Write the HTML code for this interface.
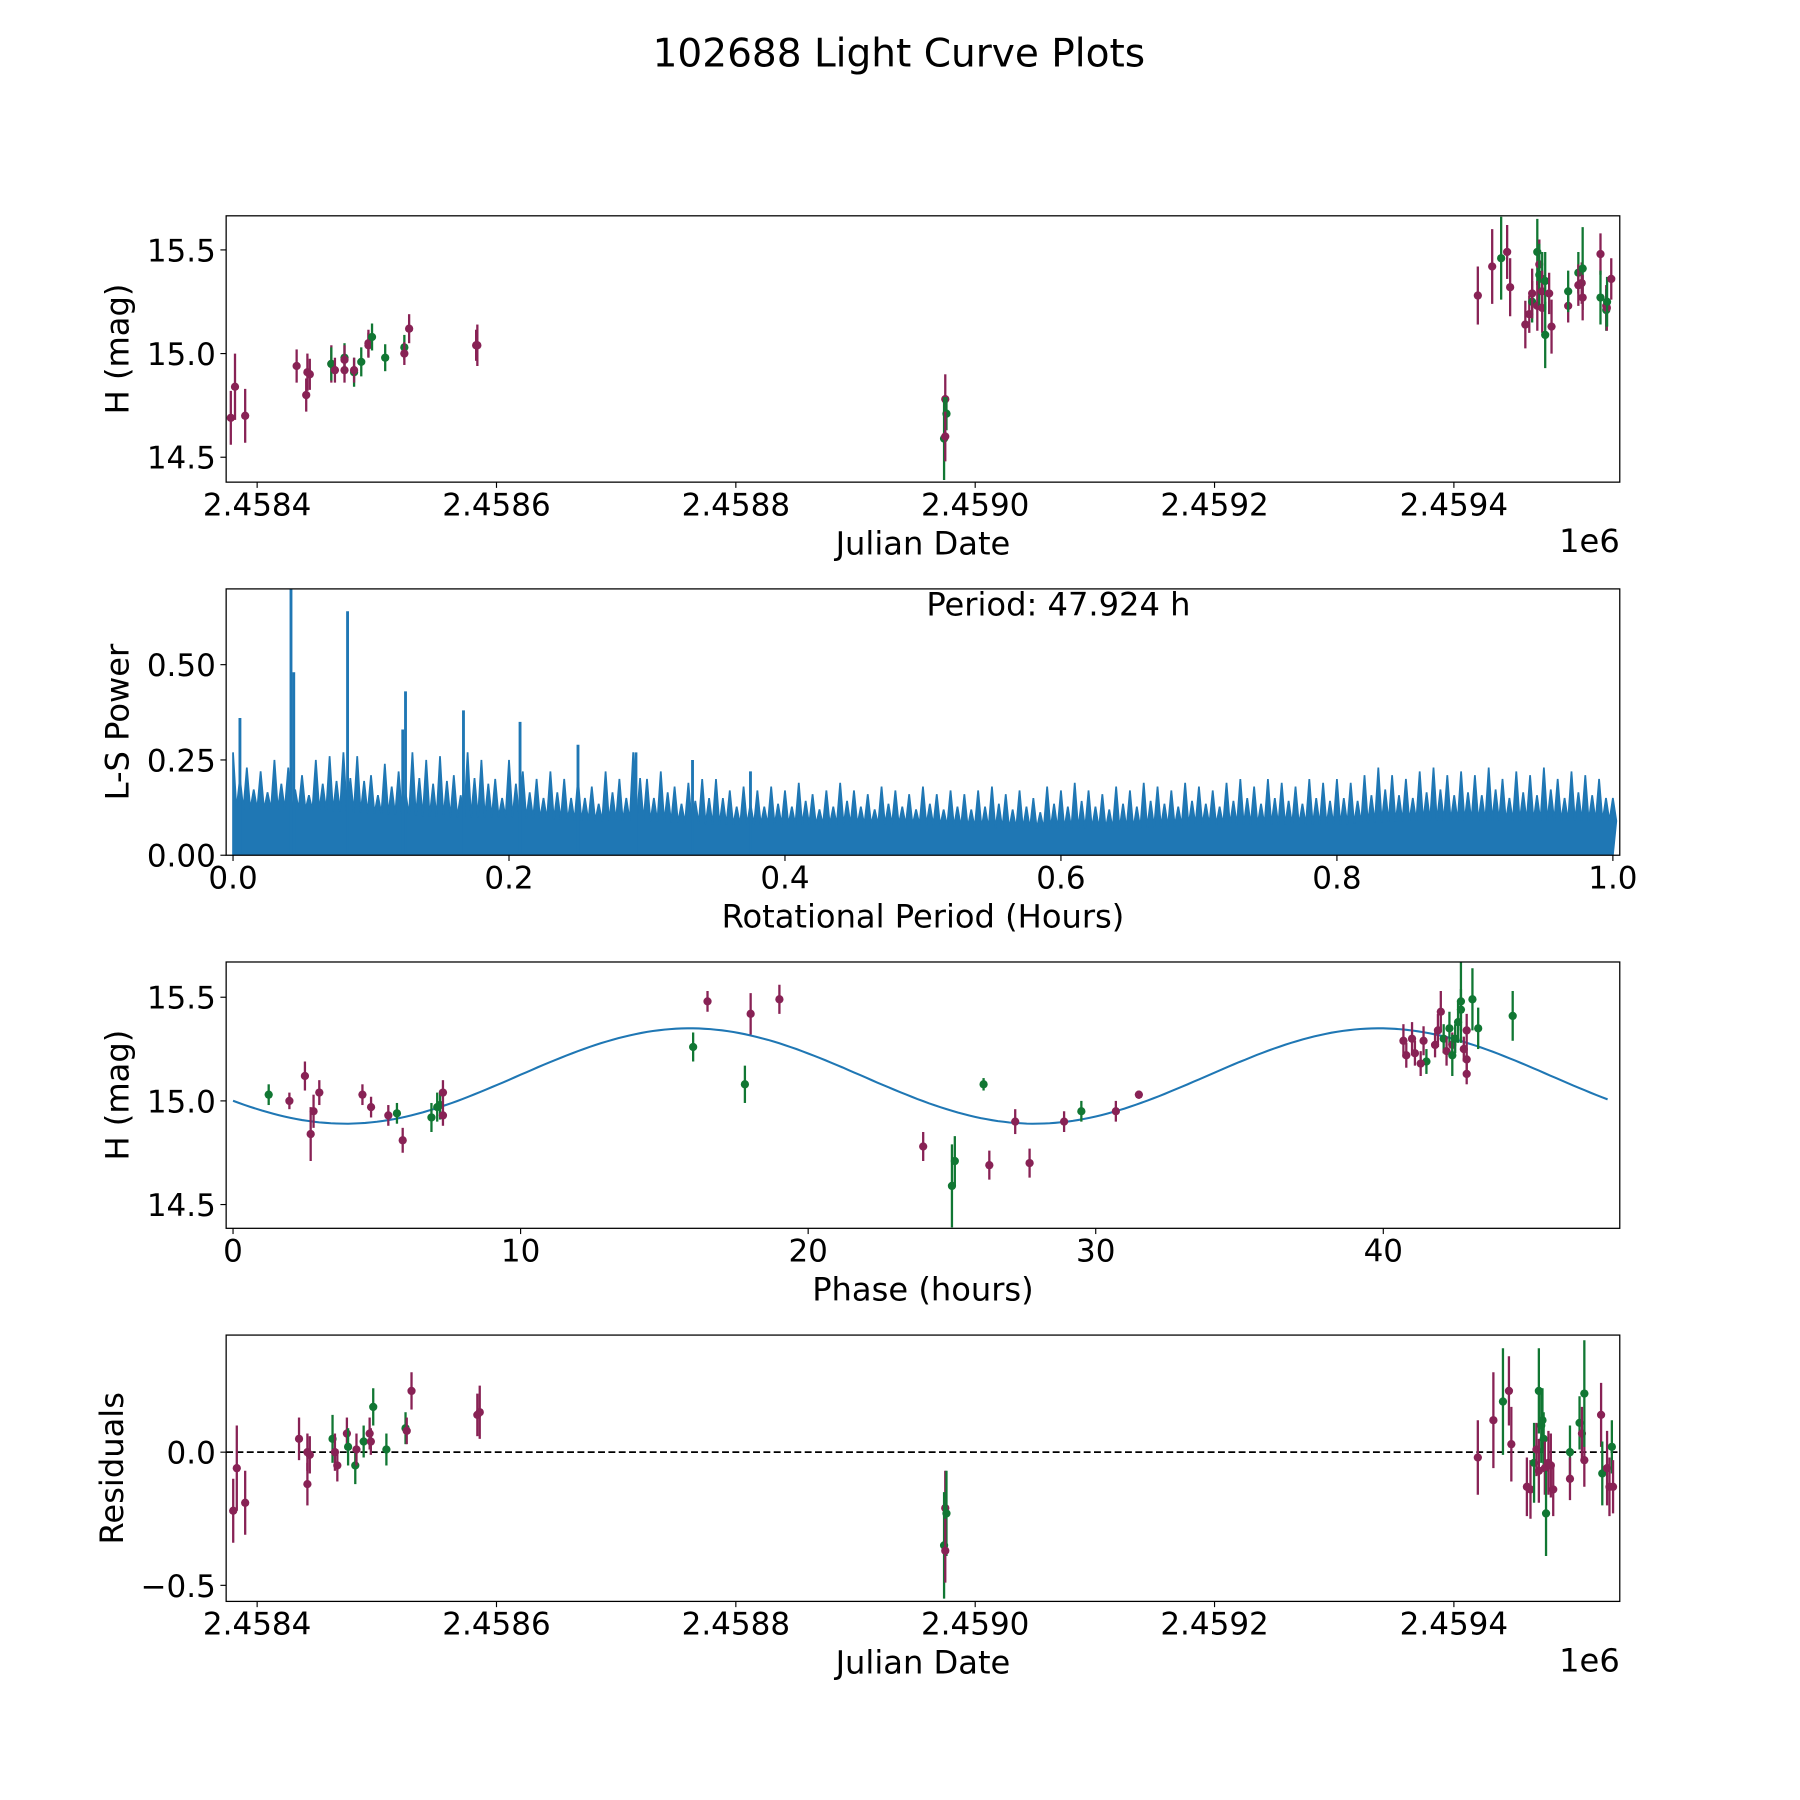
<!DOCTYPE html>
<html><head><meta charset="utf-8"><style>
html,body{margin:0;padding:0;background:#fff}
svg{display:block}
text{font-family:"DejaVu Sans","Liberation Sans",sans-serif;fill:#000}
</style></head><body>
<svg id="fig" width="1800" height="1800" viewBox="0 0 1568 1568" xmlns="http://www.w3.org/2000/svg">
<text x="783" y="58" font-size="34" text-anchor="middle">102688 Light Curve Plots</text>
</svg>
<script>
// ---------- Panel 1: raw light curve (days after 2458400) ----------
const lcDays = [-22,-18.5,-10,33,41,42,44,62,62,65,73,73,73,81,81,87,93,93,96,107,123,123,127,183,184,
 575,576,574,575,
 1020,1032,1039.5,1044.5,1047,1059.7,1063,1065.4,1065.4,1069.7,1069.7,1071.4,1071.4,1073.8,1073.8,1073.8,1076.3,1076.3,1079.6,1081.6,1095.5,1095.5,1104,1104,1106.8,1107.6,1107.6,1122.5,1122.5,1127.3,1127.3,1127.8,1128,1131.5];
const lcMag = [14.69,14.84,14.70,14.94,14.80,14.91,14.90,14.95,14.95,14.92,14.92,14.98,14.97,14.91,14.92,14.96,15.05,15.04,15.08,14.98,15.03,15.00,15.12,15.04,15.04,
 14.78,14.71,14.59,14.60,
 15.28,15.42,15.46,15.49,15.32,15.14,15.19,15.25,15.29,15.49,15.23,15.43,15.38,15.36,15.30,15.22,15.09,15.35,15.29,15.13,15.23,15.30,15.39,15.33,15.34,15.41,15.27,15.48,15.27,15.23,15.21,15.22,15.25,15.36];
const lcErr = [0.13,0.16,0.13,0.08,0.08,0.09,0.075,0.09,0.08,0.06,0.06,0.07,0.07,0.07,0.06,0.07,0.065,0.06,0.065,0.065,0.06,0.055,0.07,0.075,0.1,
 0.12,0.08,0.2,0.12,
 0.14,0.18,0.2,0.13,0.14,0.115,0.09,0.1,0.12,0.16,0.12,0.12,0.15,0.13,0.1,0.12,0.16,0.14,0.1,0.13,0.08,0.1,0.1,0.1,0.1,0.2,0.11,0.1,0.13,0.1,0.1,0.11,0.12,0.1];
const lcBand = ['m','m','m','m','m','m','m','m','g','m','m','g','m','g','m','g','m','m','g','g','g','m','m','m','m',
 'm','g','g','m',
 'm','m','g','m','m','m','m','g','m','g','m','m','g','g','m','m','g','g','m','m','m','g','g','m','m','g','m','m','g','m','g','m','g','m'];

// ---------- Panel 2: Lomb-Scargle periodogram ----------
const lsGridPeriods = [];
const lsGridPowers = [.27,.23,.22,.25,.23,.21,.25,.26,.27,.26,
 .21,.24,.22,.27,.25,.26,.21,.27,.25,.2,
 .25,.22,.2,.22,.2,.2,.18,.22,.2,.27,
 .2,.22,.18,.19,.2,.2,.17,.18,.17,.18,
 .17,.19,.16,.17,.19,.17,.16,.18,.17,.16,
 .18,.16,.17,.16,.17,.18,.16,.17,.15,.18,
 .17,.19,.17,.16,.18,.17,.19,.18,.17,.19,
 .18,.17,.19,.2,.18,.2,.19,.18,.2,.19,
 .2,.19,.21,.23,.21,.2,.22,.23,.21,.22,
 .21,.23,.2,.22,.21,.23,.2,.22,.21,.2,.15];
for (let i = 0; i < lsGridPowers.length; i++) lsGridPeriods.push(i / 100);
const lsSpikePeriods = [0.005,0.042,0.044,0.083,0.123,0.125,0.167,0.208,0.25,0.292,0.333,0.375];
const lsSpikePowers = [0.36,0.72,0.48,0.64,0.33,0.43,0.38,0.35,0.29,0.27,0.25,0.22];
const lsFloor = [.12,.12,.11,.1,.1,.09,.09,.08,.08,.08,.08,.07,.07,.07,.08,.08,.08,.09,.09,.09,.09];
const periodText = "Period: 47.924 h";

// ---------- Panel 3: phased light curve ----------
const phHours = [1.24,1.96,2.5,2.7,2.8,3.0,4.5,4.8,5.4,5.7,5.9,6.9,7.1,7.2,7.3,7.3,
 16.0,16.5,17.8,18.0,19.0,24.0,25.0,25.1,26.1,26.3,27.2,27.7,28.9,29.5,30.7,31.5,
 40.7,40.8,41.0,41.1,41.4,41.5,41.3,41.9,42.0,42.1,42.2,42.3,42.4,42.4,42.6,42.7,42.7,42.8,42.9,42.9,42.9,43.1,43.3,44.5,42.5,41.8];
const phMag = [15.03,15.0,15.12,14.84,14.95,15.04,15.03,14.97,14.93,14.94,14.81,14.92,14.97,14.98,15.04,14.93,
 15.26,15.48,15.08,15.42,15.49,14.78,14.59,14.71,15.08,14.69,14.90,14.70,14.90,14.95,14.95,15.03,
 15.29,15.22,15.30,15.23,15.29,15.19,15.18,15.34,15.43,15.30,15.24,15.35,15.27,15.22,15.38,15.44,15.48,15.25,15.34,15.20,15.13,15.49,15.35,15.41,15.30,15.27];
const phErr = [0.05,0.04,0.07,0.13,0.08,0.06,0.05,0.05,0.05,0.05,0.06,0.07,0.07,0.07,0.06,0.05,
 0.07,0.05,0.09,0.1,0.07,0.07,0.2,0.12,0.03,0.07,0.06,0.07,0.05,0.05,0.05,0.02,
 0.08,0.06,0.08,0.06,0.07,0.06,0.06,0.08,0.1,0.07,0.07,0.08,0.06,0.1,0.1,0.1,0.2,0.06,0.08,0.06,0.05,0.15,0.1,0.12,0.07,0.06];
const phBand = ['g','m','m','m','m','m','m','m','m','g','m','g','g','g','m','m',
 'g','m','g','m','m','m','g','g','g','m','m','m','m','g','m','m',
 'm','m','m','m','m','g','m','m','m','g','m','g','m','g','g','g','g','m','m','m','m','g','g','g','g','m'];
const modelMean = 15.12, modelAmp = 0.23, modelPeriod = 23.962, modelT0 = 9.9;

// ---------- Panel 4: residuals ----------
const resDays = [-20,-17,-10,35,42,42,44,63,65,67,75,76,82,83,89,94,95,97,108,124,125,129,184,186,
 575,576,574,575,
 1020,1033,1041,1046,1048,1061,1064,1067,1069,1071,1071,1073,1074,1075,1076,1077,1079,1081,1083,1097,1097,1105,1107,1109,1109,1123,1124,1128,1130,1132,1133];
const resVal = [-0.22,-0.06,-0.19,0.05,-0.12,0.0,-0.01,0.05,0.0,-0.05,0.07,0.02,-0.05,0.01,0.04,0.07,0.04,0.17,0.01,0.09,0.08,0.23,0.14,0.15,
 -0.21,-0.23,-0.35,-0.37,
 -0.02,0.12,0.19,0.23,0.03,-0.13,-0.14,-0.04,0.01,0.23,-0.07,0.10,0.12,0.05,-0.06,-0.23,-0.04,-0.05,-0.14,0.0,-0.10,0.11,0.07,-0.03,0.22,0.14,-0.08,-0.06,-0.13,0.02,-0.13];
const resErr = [0.12,0.16,0.12,0.08,0.08,0.07,0.07,0.09,0.07,0.06,0.06,0.07,0.07,0.06,0.06,0.06,0.05,0.07,0.06,0.06,0.05,0.07,0.08,0.1,
 0.14,0.16,0.2,0.12,
 0.14,0.18,0.2,0.13,0.14,0.11,0.11,0.15,0.1,0.16,0.12,0.14,0.12,0.1,0.1,0.16,0.12,0.12,0.1,0.1,0.08,0.1,0.1,0.1,0.2,0.12,0.12,0.14,0.11,0.1,0.1];
const resBand = ['m','m','m','m','m','m','m','g','m','m','m','g','g','m','g','m','m','g','g','g','m','m','m','m',
 'm','g','g','m',
 'm','m','g','m','m','m','m','g','m','g','m','g','g','g','m','g','m','m','m','g','m','g','m','m','g','m','g','m','m','g','m'];

const jdTicks = [-0.0002,0,0.0002,0.0004,0.0006,0.0008,0.001];
const jdTickLabels = ["2.4582","2.4584","2.4586","2.4588","2.4590","2.4592","2.4594"];
const magTicks = [14.5,15.0,15.5];
const magTickLabels = ["14.5","15.0","15.5"];
const lsXTicks = [0,0.2,0.4,0.6,0.8,1.0];
const lsXTickLabels = ["0.0","0.2","0.4","0.6","0.8","1.0"];
const lsYTicks = [0,0.25,0.5];
const lsYTickLabels = ["0.00","0.25","0.50"];
const phTicks = [0,10,20,30,40];
const phTickLabels = ["0","10","20","30","40"];
const resTicks = [-0.5,0.0];
const resTickLabels = ["\u22120.5","0.0"];

const NS = "http://www.w3.org/2000/svg";
const svg = document.getElementById('fig');
const COL = {m:'#882255', g:'#117733'};
const L = 197, R = 1411;
function mk(tag, attrs, parent) {
  const e = document.createElementNS(NS, tag);
  for (const k in attrs) e.setAttribute(k, attrs[k]);
  (parent || svg).appendChild(e);
  return e;
}
function lin(d0, d1, r0, r1) { return v => r0 + (v - d0) * (r1 - r0) / (d1 - d0); }

function axes(top, xs, ys, xt, xtl, yt, ytl, xlabel, ylabel, name, ylabX, offset) {
  const g = mk('g', {});
  
  
  const bot = top + 232;
  xt.forEach((t, i) => {
    const x = xs(t);
    if (x < L - 0.5 || x > R + 0.5) return;
    mk('line', {x1:x, x2:x, y1:bot, y2:bot + 5, stroke:'#000', 'stroke-width':1}, g);
    const tx = mk('text', {x:x, y:bot + 29, 'font-size':27, 'text-anchor':'middle'}, g);
    tx.textContent = xtl[i];
    
    
  });
  yt.forEach((t, i) => {
    const y = ys(t);
    mk('line', {x1:L - 5, x2:L, y1:y, y2:y, stroke:'#000', 'stroke-width':1}, g);
    const tx = mk('text', {x:L - 9, y:y + 10, 'font-size':27, 'text-anchor':'end'}, g);
    tx.textContent = ytl[i];
    
    
  });
  const xl = mk('text', {x:(L + R) / 2, y:bot + 63, 'font-size':28, 'text-anchor':'middle'}, g);
  xl.textContent = xlabel;
  
  
  const yl = mk('text', {x:0, y:0, 'font-size':28, 'text-anchor':'middle', transform:`translate(${ylabX},${top + 116}) rotate(-90)`}, g);
  yl.textContent = ylabel;
  
  
  if (offset) {
    const o = mk('text', {x:R, y:bot + 61, 'font-size':28, 'text-anchor':'end'}, g);
    o.textContent = offset;
    
    
  }
}
function frame(top, name) {
  const f = mk('rect', {x:L, y:top, width:R - L, height:232, fill:'none', stroke:'#000', 'stroke-width':1.1});
  
  
}
function clip(id, top) {
  const c = mk('clipPath', {id:id});
  mk('rect', {x:L, y:top, width:R - L, height:232}, c);
}
function errPoints(xs, ys, X, Y, E, B, top, name) {
  const g = mk('g', {'clip-path':`url(#${name}-clip)`});
  
  
  for (let i = 0; i < X.length; i++) {
    const x = xs(X[i]), c = COL[B[i]];
    const el = mk('line', {x1:x, x2:x, y1:ys(Y[i] - E[i]), y2:ys(Y[i] + E[i]), stroke:c, 'stroke-width':2}, g);
    
    
    const p = mk('circle', {cx:x, cy:ys(Y[i]), r:3.6, fill:c}, g);
    
    
  }
}

const jdx = lin(0, 200, 224, 432.5);
const jdTickX = t => jdx(t * 1e6);

// Panel 1
{
  const top = 188;
  const ys = lin(15.0, 15.5, 308, 217.7);
  clip('p1-clip', top);
  errPoints(jdx, ys, lcDays, lcMag, lcErr, lcBand, top, 'p1');
  frame(top, 'p1');
  axes(top, jdTickX, ys, jdTicks, jdTickLabels, magTicks, magTickLabels, 'Julian Date', 'H (mag)', 'p1', 112, '1e6');
}
// Panel 2
{
  const top = 513;
  const xs = lin(0, 1, 203, 1405);
  const ys = lin(0, 0.25, 745, 662);
  clip('p2-clip', top);
  const g = mk('g', {'clip-path':'url(#p2-clip)'});
  
  
  const floorAt = p => { const f = p / 0.05, i = Math.min(Math.floor(f), lsFloor.length - 2); return lsFloor[i] + (lsFloor[i + 1] - lsFloor[i]) * (f - i); };
  let d = `M${xs(0)},${ys(0)}`;
  for (let i = 0; i < lsGridPeriods.length; i++) {
    const p = lsGridPeriods[i];
    d += ` L${xs(p)},${ys(lsGridPowers[i])} L${xs(p + 0.0025)},${ys(floorAt(p + 0.0025))}`;
    if (i < lsGridPeriods.length - 1) d += ` L${xs(p + 0.005)},${ys(lsGridPowers[i] * 0.75)} L${xs(p + 0.0075)},${ys(floorAt(p + 0.0075))}`;
  }
  d += ` L${xs(1)},${ys(0)} Z`;
  const area = mk('path', {d:d, fill:'#1f77b4', stroke:'#1f77b4', 'stroke-width':1.5, 'stroke-linejoin':'miter'}, g);
  
  
  for (let i = 0; i < lsSpikePeriods.length; i++) {
    const x = xs(lsSpikePeriods[i]);
    const s = mk('line', {x1:x, x2:x, y1:ys(0), y2:ys(lsSpikePowers[i]), stroke:'#1f77b4', 'stroke-width':2.5}, g);
    
    
  }
  frame(top, 'p2');
  axes(top, xs, ys, lsXTicks, lsXTickLabels, lsYTicks, lsYTickLabels, 'Rotational Period (Hours)', 'L-S Power', 'p2', 112, null);
  const pt = mk('text', {x:922, y:536, 'font-size':28, 'text-anchor':'middle'});
  pt.textContent = periodText;
  
  
}
// Panel 3
{
  const top = 838;
  const xs = lin(0, 10, 203, 453.5);
  const ys = lin(15.0, 15.5, 959, 868.7);
  clip('p3-clip', top);
  let d = '';
  for (let t = 0; t <= 47.924; t += 0.2) {
    const v = modelMean + modelAmp * Math.sin(2 * Math.PI * (t - modelT0) / modelPeriod);
    d += (d ? ' L' : 'M') + xs(t).toFixed(1) + ',' + ys(v).toFixed(1);
  }
  const curve = mk('path', {d:d, fill:'none', stroke:'#1f77b4', 'stroke-width':1.8, 'clip-path':'url(#p3-clip)'});
  
  
  errPoints(xs, ys, phHours, phMag, phErr, phBand, top, 'p3');
  frame(top, 'p3');
  axes(top, xs, ys, phTicks, phTickLabels, magTicks, magTickLabels, 'Phase (hours)', 'H (mag)', 'p3', 112, null);
}
// Panel 4
{
  const top = 1163;
  const ys = lin(0, -0.5, 1265, 1381);
  clip('p4-clip', top);
  const z = mk('line', {x1:L, x2:R, y1:ys(0), y2:ys(0), stroke:'#000', 'stroke-width':1.5, 'stroke-dasharray':'6,3'});
  
  
  errPoints(jdx, ys, resDays, resVal, resErr, resBand, top, 'p4');
  frame(top, 'p4');
  axes(top, jdTickX, ys, jdTicks, jdTickLabels, resTicks, resTickLabels, 'Julian Date', 'Residuals', 'p4', 107, '1e6');
}
</script>
</body></html>
